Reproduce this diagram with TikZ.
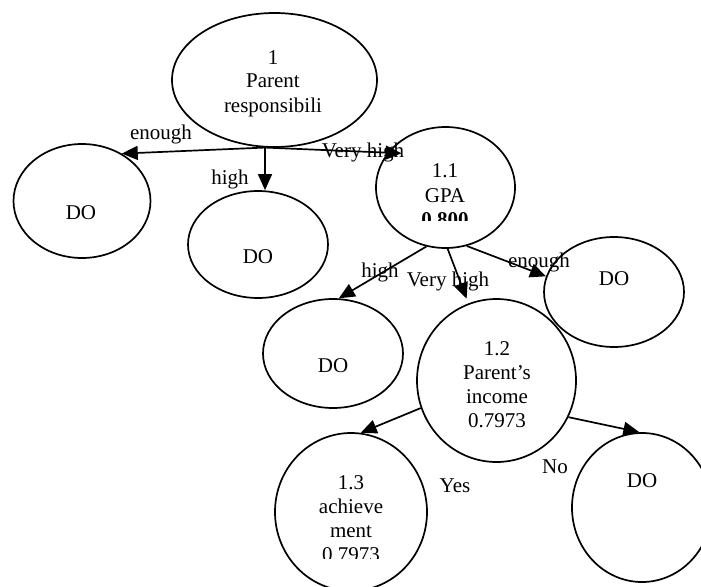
\documentclass[tikz,border=0pt]{standalone}
\usepackage{fontspec}
\setmainfont{Liberation Serif}
\usetikzlibrary{arrows.meta,shapes.geometric,calc}
\begin{document}
\begin{tikzpicture}[x=1pt,y=-1pt,
  oval/.style={draw, ellipse, line width=1.7pt, inner sep=0pt},
  txt/.style={inner sep=0pt, anchor=base, font=\fontsize{21}{24.5}\selectfont},
  arr/.style={line width=1.7pt, -{Triangle[length=16pt,width=14pt]}},
]
\useasboundingbox (0,0) rectangle (701,586);
\clip (0,0) rectangle (701,586);
% ellipses
\node[oval, minimum width=205pt, minimum height=134pt] (top) at (274.5,80) {};
\node[oval, minimum width=137pt, minimum height=114pt] (do1) at (82,201) {};
\node[oval, minimum width=140pt, minimum height=107pt] (do2) at (258,244.5) {};
\node[oval, minimum width=139pt, minimum height=121pt] (gpa) at (445.5,187.5) {};
\node[oval, minimum width=140pt, minimum height=110pt] (do3) at (614,292) {};
\node[oval, minimum width=140pt, minimum height=109pt] (do4) at (333,353.5) {};
\node[oval, minimum width=159pt, minimum height=163pt] (n12) at (496.5,380.5) {};
\node[oval, minimum width=152pt, minimum height=158pt] (n13) at (351,512) {};
\node[oval, minimum width=140pt, minimum height=149pt] (do5) at (642,507.5) {};
% node texts
\node[txt] (t0a) at (273,64) {1};
\node[txt] (t0b) at (273,88) {Parent};
\node[txt] (t0c) at (273,112) {responsibili};
\node[txt] (tdo1) at (81,219) {DO};
\node[txt] (tdo2) at (258,263) {DO};
\node[txt] (t11a) at (445,177) {1.1};
\node[txt] (t11b) at (445,202) {GPA};
\begin{scope}
\clip (390,200) rectangle (500,220);
\node[txt] (t11c) at (445,226) {\bfseries 0.800};
\end{scope}
\node[txt] (tdo3) at (614,285) {DO};
\node[txt] (tdo4) at (333,372) {DO};
\node[txt] (t12a) at (497,355) {1.2};
\node[txt] (t12b) at (497,379) {Parent’s};
\node[txt] (t12c) at (497,403) {income};
\node[txt] (t12d) at (497,427) {0.7973};
\node[txt] (t13a) at (351,489) {1.3};
\node[txt] (t13b) at (351,513) {achieve};
\node[txt] (t13c) at (351,537) {ment};
\begin{scope}
\clip (300,540) rectangle (400,558);
\node[txt] (t13d) at (351,561) {0.7973};
\end{scope}
\node[txt] (tdo5) at (642,487) {DO};
% connectors
\draw[arr] (top.262) -- (do1.50);
\draw[arr] (top.262) -- (top.262 |- do2.north);
\draw[arr, shorten >=-14pt] (top.262) -- (gpa.149);
\draw[arr] (gpa.252) -- (do4.84);
\draw[arr, shorten >=5pt] (gpa.272) -- (n12.110);
\draw[arr] (gpa.290) -- (do3.167);
\draw[arr] (n12.200) -- (n13.83);
\draw[arr] (n12.333) -- (do5.92);
% edge labels
\node[txt] (l1) at (161,139) {enough};
\node[txt] (l2) at (230,184) {high};
\node[txt] (l3) at (363,157) {Very high};
\node[txt] (l4) at (380,277) {high};
\node[txt] (l5) at (448,286) {Very high};
\node[txt] (l6) at (539,267) {enough};
\node[txt] (l7) at (455,492) {Yes};
\node[txt] (l8) at (555,473) {No};
\end{tikzpicture}
\end{document}
